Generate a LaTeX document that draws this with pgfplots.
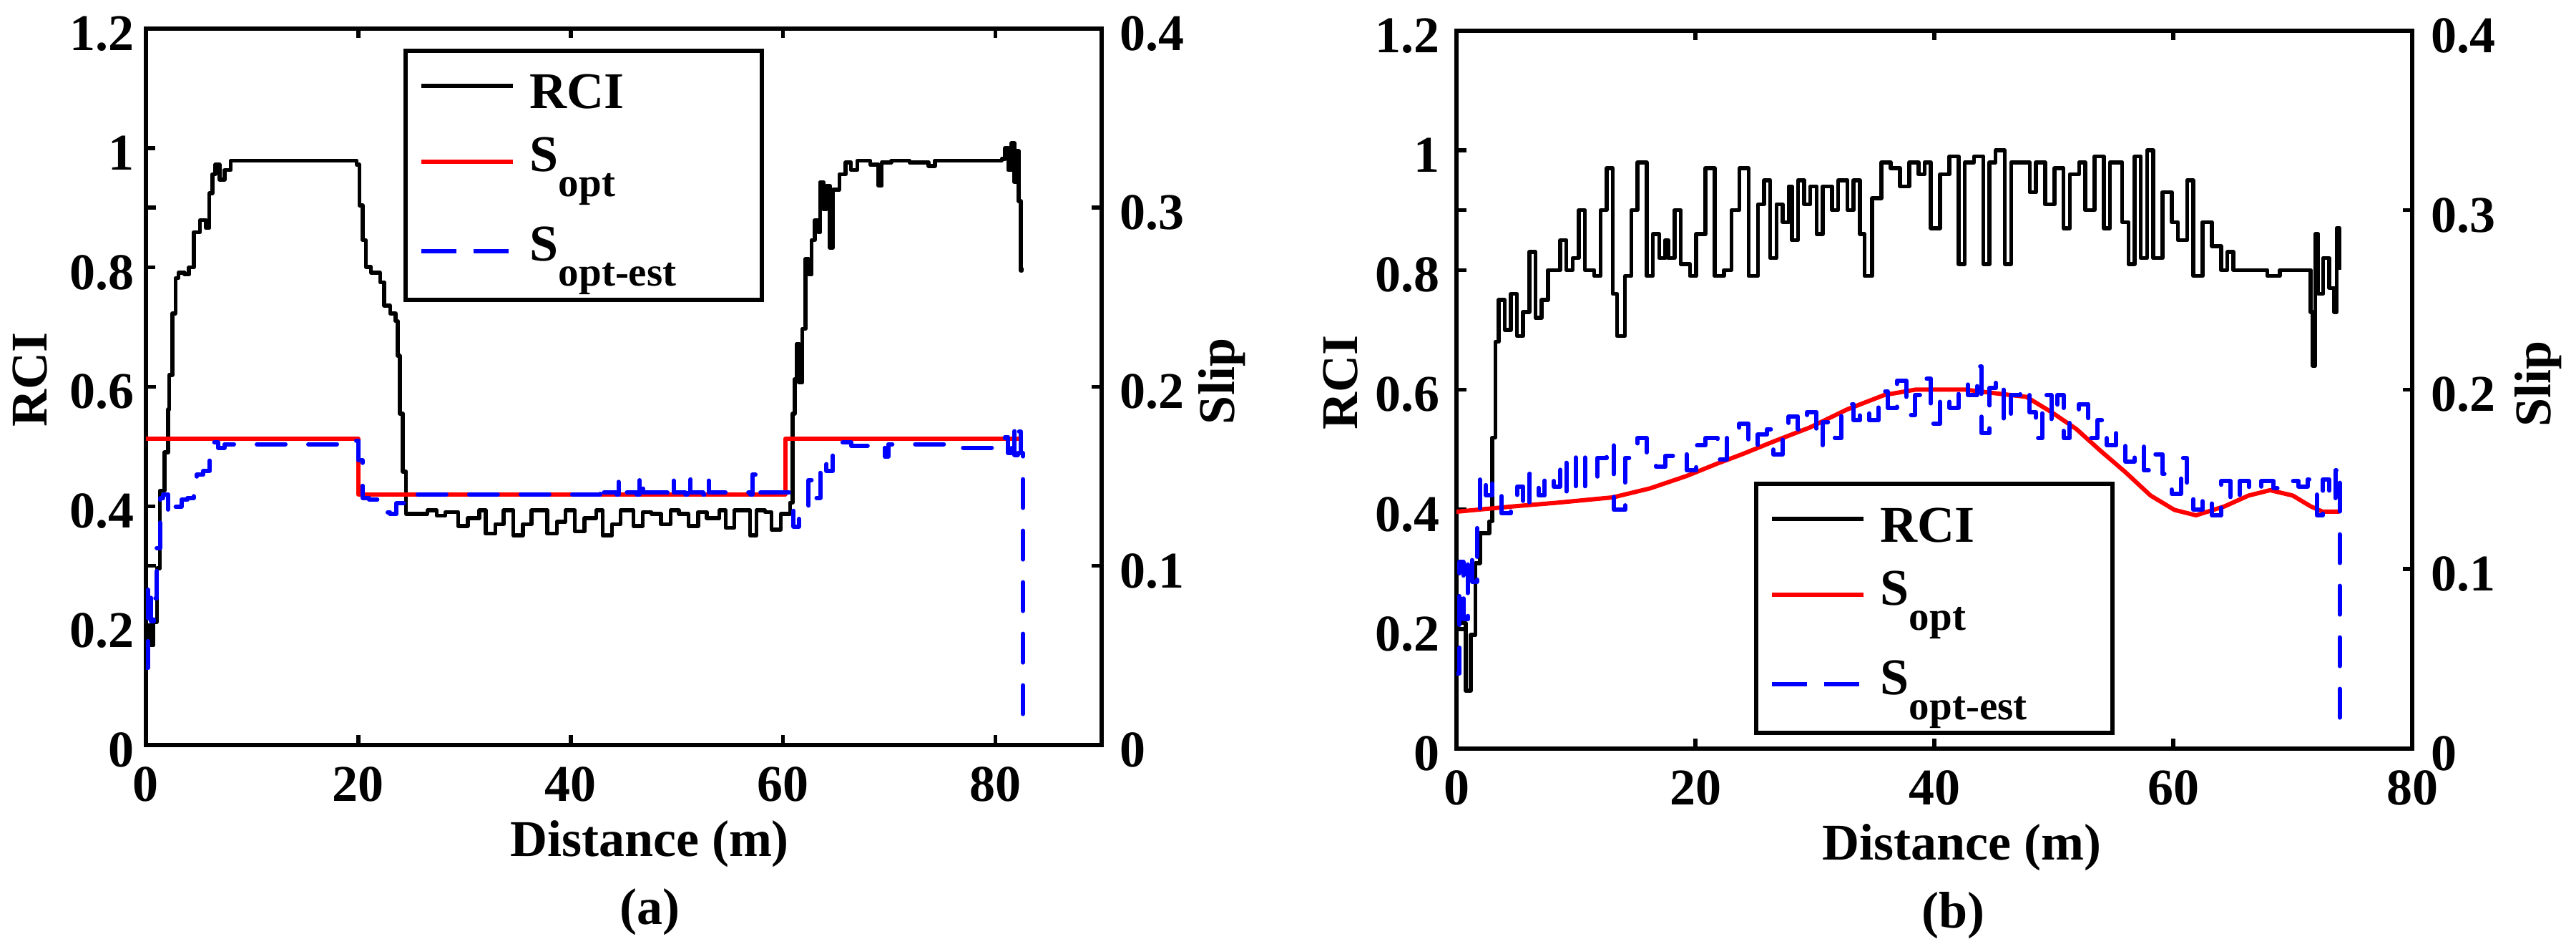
\documentclass[border=0pt]{standalone}
\usepackage{fontspec}
\setmainfont{Liberation Serif}
\usepackage{pgfplots}
\pgfplotsset{compat=1.18}

\newcommand{\mainsize}{\fontsize{14.4}{17}\selectfont\bfseries}
\newcommand{\subsize}{\fontsize{11.4}{12}\selectfont\bfseries}

\pgfplotsset{
  every axis title shift=0pt,
  base/.style={
    scale only axis, width=267.2pt,
    font=\mainsize,
    tick align=inside,
    major tick length=2.7pt,
    tick style={black, line width=1.1pt},
    axis line style={line width=1.2pt},
  },
  rciax/.style={
    base,
    ymin=0, ymax=1.2,
    ytick={0,0.2,0.4,0.6,0.8,1,1.2},
    yticklabels={0,0.2,0.4,0.6,0.8,1,1.2},
    xtick={0,20,40,60,80}, xticklabels={0,20,40,60,80},
    xtick pos=both, ytick pos=left,
    xticklabel style={inner sep=0pt, anchor=north, yshift=-6pt},
    xlabel={Distance (m)},
    ylabel={RCI},
    ylabel style={at={(axis description cs:-0.1213,0.5095)}, anchor=center, inner sep=0pt},
  },
  slipax/.style={
    base,
    ymin=0, ymax=0.4,
    xtick=\empty,
    ytick={0,0.1,0.2,0.3,0.4},
    yticklabels={0,0.1,0.2,0.3,0.4},
    ytick pos=both, yticklabel pos=right,
    yticklabel style={inner sep=0pt, anchor=west, xshift=5pt, yshift=-1.4pt},
    ylabel={Slip},
    legend plot pos=none,
  },
  legsty/.style={
    legend style={draw=black, line width=1.1pt, fill=white,
      inner xsep=4.4pt, inner ysep=0pt,
      font=\mainsize,
      nodes={inner sep=0pt, text depth=, text height=, font=\mainsize},
      cells={anchor=west}},
  },
  rcistyle/.style={black, line width=1.1pt, line join=round},
  optstyle/.style={red, line width=1.2pt, line join=round},
  eststyle/.style={blue, line width=1.2pt, line join=round, line cap=round, dash pattern=on 8pt off 6.4pt},
}

% legend rows: sample line (25.6pt) + gap (4.8pt) + text (60.4pt)
\newcommand{\legRCI}{\rule[-3.4pt]{0pt}{19.6pt}%
  {\color{black}\rule[5.85pt]{25.6pt}{1.1pt}}\hspace{4.8pt}%
  \makebox[60.4pt][l]{\mainsize RCI}}
\newcommand{\legOpt}{\rule[-8.6pt]{0pt}{22.8pt}%
  {\color{red}\rule[2.2pt]{25.6pt}{1.2pt}}\hspace{4.8pt}%
  \makebox[60.4pt][l]{\smash{\mainsize S\raisebox{-7pt}{\subsize opt}}}}
\newcommand{\legEst}{\rule[-10.8pt]{0pt}{27.2pt}%
  {\color{blue}\rule[2.2pt]{9.8pt}{1.2pt}\hspace{4.8pt}\rule[2.2pt]{9.8pt}{1.2pt}\hspace{1.2pt}}\hspace{4.8pt}%
  \makebox[60.4pt][l]{\smash{\mainsize S\raisebox{-7pt}{\subsize opt-est}}}}

\begin{document}
\begin{tikzpicture}
\useasboundingbox (0,0) rectangle (720.2pt,263.8pt);

% ---------------- panel (a) ----------------
\begin{axis}[rciax, at={(40.8pt,55.6pt)}, anchor=south west, height=200.2pt,
  xmin=0, xmax=90,
  yticklabel style={inner sep=0pt, anchor=east, xshift=-3pt, yshift=-1.4pt},
  xlabel style={at={(axis description cs:0.527,0)}, anchor=base, yshift=-31.2pt, inner sep=0pt},
  title={(a)},
  title style={at={(axis description cs:0.527,0)}, anchor=base, yshift=-50.2pt, inner sep=0pt},
]
\addplot[rcistyle, const plot] coordinates {
(0,0.199)(0.35,0.167)(0.7,0.206)(1.04,0.296)(1.33,0.426)(1.74,0.49)(2.08,0.562)(2.2,0.62)(2.49,0.723)(2.78,0.782)(3.07,0.791)(3.65,0.788)(4.05,0.80)(4.5,0.859)(5.1,0.879)(5.67,0.866)(5.96,0.924)(6.25,0.956)(6.54,0.972)(6.94,0.947)(7.4,0.963)(8.0,0.979)(19.3,0.979)(19.85,0.972)(20.1,0.904)(20.4,0.846)(20.7,0.801)(21.2,0.791)(21.6,0.791)(22.05,0.775)(22.45,0.736)(23.0,0.723)(23.5,0.71)(23.7,0.652)(23.9,0.555)(24.2,0.458)(24.5,0.387)(26.5,0.393)(27.4,0.384)(28.2,0.39)(29.4,0.367)(30.3,0.38)(31.4,0.393)(32.0,0.354)(32.9,0.37)(33.7,0.393)(34.6,0.351)(35.5,0.37)(36.3,0.393)(37.8,0.354)(38.7,0.374)(39.5,0.393)(40.4,0.358)(41.3,0.38)(42.4,0.393)(43.0,0.351)(43.9,0.37)(44.7,0.393)(45.9,0.367)(46.8,0.39)(47.6,0.387)(48.5,0.37)(49.4,0.393)(50.2,0.387)(51.1,0.367)(52.0,0.39)(52.8,0.38)(54.0,0.393)(54.6,0.364)(55.4,0.393)(56.9,0.351)(57.5,0.393)(58.3,0.39)(58.9,0.361)(59.8,0.387)(60.4,0.387)(60.65,0.406)(60.9,0.555)(61.1,0.613)(61.3,0.672)(61.5,0.607)(61.8,0.697)(62.1,0.814)(62.4,0.788)(62.7,0.846)(63.0,0.879)(63.3,0.859)(63.5,0.943)(63.8,0.898)(64.1,0.937)(64.4,0.833)(64.7,0.93)(65.3,0.956)(65.9,0.976)(66.4,0.963)(67.0,0.979)(68.2,0.972)(69.0,0.937)(69.3,0.976)(70.2,0.979)(71.9,0.976)(73.7,0.97)(74.3,0.979)(79.7,0.979)(80.6,0.982)(80.9,1.0)(81.2,0.963)(81.5,1.008)(81.8,0.943)(82.0,0.995)(82.2,0.911)(82.4,0.795)(82.5,0.80)
};
\end{axis}

\begin{axis}[slipax, legsty, at={(40.8pt,55.6pt)}, anchor=south west, height=200.2pt,
  xmin=0, xmax=90,
  ylabel style={at={(axis description cs:1.1257,0.5075)}, anchor=center, inner sep=0pt},
  legend style={at={(axis description cs:0.2695,0.972)}, anchor=north west},
]
\addlegendimage{rcistyle}
\addlegendentry{\legRCI}
\addplot[optstyle] coordinates {
(0,0.171)(20,0.171)(20,0.140)(60.2,0.140)(60.2,0.171)(82.5,0.171)
};
\addlegendentry{\legOpt}
\addplot[eststyle, const plot] coordinates {
(0,0.043)(0.17,0.09)(0.46,0.069)(0.75,0.082)(1.04,0.110)(1.33,0.138)(1.62,0.140)(2.08,0.128)(2.49,0.129)(2.78,0.133)(3.36,0.137)(3.94,0.138)(4.5,0.144)(4.8,0.151)(5.4,0.153)(6.0,0.163)(6.25,0.169)(6.8,0.166)(7.4,0.168)(19.0,0.168)(19.6,0.170)(20.0,0.159)(20.4,0.138)(21.0,0.137)(21.9,0.135)(22.45,0.130)(23.0,0.129)(23.6,0.135)(24.5,0.140)(42.6,0.140)(42.8,0.146)(43.0,0.141)(44.3,0.140)(44.5,0.148)(44.7,0.141)(46.2,0.140)(46.5,0.151)(46.8,0.141)(49.1,0.140)(49.4,0.148)(49.7,0.141)(50.8,0.140)(51.0,0.150)(51.3,0.141)(52.5,0.140)(52.7,0.149)(53.0,0.141)(56.9,0.140)(57.1,0.151)(57.4,0.141)(60.1,0.141)(61.0,0.122)(61.5,0.129)(62.1,0.133)(62.4,0.148)(62.7,0.138)(63.5,0.159)(64.1,0.153)(64.7,0.166)(65.6,0.169)(66.4,0.167)(69.3,0.168)(69.6,0.161)(69.9,0.168)(75.1,0.168)(76.3,0.166)(79.7,0.169)(80.9,0.172)(81.2,0.163)(81.5,0.176)(81.8,0.162)(82.1,0.175)(82.4,0.163)(82.6,0.151)(82.6,0.016)
};
\addlegendentry{\legEst}
\end{axis}

% ---------------- panel (b) ----------------
\begin{axis}[rciax, at={(407.2pt,54.6pt)}, anchor=south west, height=200.6pt,
  xmin=0, xmax=80,
  yticklabel style={inner sep=0pt, anchor=east, xshift=-4.6pt, yshift=-1.4pt},
  xlabel style={at={(axis description cs:0.529,0)}, anchor=base, yshift=-31.2pt, inner sep=0pt},
  title={(b)},
  title style={at={(axis description cs:0.52,0)}, anchor=base, yshift=-50.2pt, inner sep=0pt},
]
\addplot[rcistyle, const plot] coordinates {
(0,0.25)(0.41,0.21)(0.78,0.097)(1.19,0.19)(1.60,0.31)(1.96,0.36)(2.74,0.38)(3.0,0.52)(3.26,0.68)(3.52,0.75)(4.03,0.70)(4.55,0.76)(5.07,0.69)(5.58,0.73)(6.10,0.83)(6.62,0.72)(7.13,0.75)(7.65,0.80)(8.17,0.80)(8.69,0.85)(9.20,0.80)(9.72,0.82)(10.24,0.90)(10.75,0.80)(11.53,0.79)(12.05,0.90)(12.56,0.97)(13.08,0.76)(13.44,0.69)(14.11,0.79)(14.63,0.90)(15.15,0.98)(15.92,0.79)(16.44,0.86)(16.96,0.82)(17.47,0.85)(17.73,0.82)(18.25,0.90)(18.77,0.81)(19.54,0.79)(20.06,0.86)(20.84,0.97)(21.61,0.79)(22.39,0.80)(23.01,0.90)(23.68,0.97)(24.45,0.79)(25.23,0.91)(25.75,0.95)(26.26,0.82)(26.78,0.91)(27.30,0.88)(27.81,0.94)(28.07,0.85)(28.59,0.95)(29.11,0.91)(29.62,0.94)(30.14,0.86)(30.66,0.94)(31.43,0.90)(31.95,0.95)(32.73,0.90)(33.24,0.95)(33.76,0.86)(34.17,0.79)(34.79,0.92)(35.57,0.98)(36.35,0.97)(37.12,0.94)(37.90,0.98)(38.67,0.96)(39.19,0.98)(39.71,0.87)(40.48,0.96)(41.26,0.99)(42.03,0.81)(42.55,0.98)(43.32,0.99)(44.10,0.81)(44.62,0.98)(45.13,1.00)(45.91,0.81)(46.43,0.98)(47.20,0.98)(47.98,0.93)(48.49,0.98)(49.27,0.91)(50.05,0.97)(50.82,0.87)(51.34,0.96)(52.11,0.98)(52.63,0.90)(53.41,0.99)(54.18,0.87)(54.70,0.98)(55.22,0.98)(55.73,0.88)(56.25,0.81)(56.77,0.99)(57.28,0.82)(57.80,1.00)(58.32,0.82)(59.09,0.93)(59.87,0.88)(60.39,0.85)(61.16,0.95)(61.68,0.79)(62.45,0.88)(63.23,0.84)(64.00,0.80)(64.52,0.83)(65.04,0.80)(65.81,0.80)(66.85,0.80)(67.88,0.79)(68.92,0.80)(69.95,0.80)(71.24,0.80)(71.50,0.73)(71.66,0.64)(71.87,0.86)(72.13,0.76)(72.54,0.82)(73.06,0.77)(73.47,0.73)(73.67,0.87)(73.93,0.80)
};
\end{axis}

\begin{axis}[slipax, legsty, at={(407.2pt,54.6pt)}, anchor=south west, height=200.6pt,
  xmin=0, xmax=80,
  ylabel style={at={(axis description cs:1.132,0.5075)}, anchor=center, inner sep=0pt},
  legend style={at={(axis description cs:0.3114,0.019)}, anchor=south west},
]
\addlegendimage{rcistyle}
\addlegendentry{\legRCI}
\addplot[optstyle] coordinates {
(0,0.132)(4.8,0.135)(8.4,0.137)(13.1,0.140)(16.2,0.145)(19.3,0.152)(21.9,0.159)(23.9,0.164)(26.5,0.171)(29.6,0.179)(32.7,0.189)(35.8,0.197)(38.4,0.200)(42.6,0.200)(45.1,0.198)(47.7,0.196)(49.8,0.1875)(51.9,0.178)(53.9,0.166)(56.0,0.154)(58.1,0.141)(60.1,0.133)(61.9,0.130)(64.3,0.135)(66.3,0.141)(68.1,0.144)(70.0,0.141)(71.5,0.135)(72.5,0.132)(73.9,0.132)
};
\addlegendentry{\legOpt}
\addplot[eststyle, const plot] coordinates {
(0,0.042)(0.26,0.104)(0.57,0.072)(0.93,0.109)(1.29,0.093)(1.71,0.127)(1.96,0.153)(2.48,0.141)(3.0,0.148)(3.77,0.131)(4.55,0.139)(5.07,0.146)(5.58,0.133)(6.10,0.153)(6.88,0.141)(7.39,0.153)(8.17,0.146)(8.69,0.162)(9.20,0.141)(9.98,0.166)(10.75,0.146)(11.79,0.162)(12.56,0.170)(13.18,0.133)(14.11,0.162)(15.15,0.173)(15.92,0.160)(16.70,0.157)(17.47,0.163)(18.25,0.166)(19.28,0.155)(20.06,0.169)(20.84,0.173)(21.87,0.161)(22.64,0.173)(23.68,0.181)(24.45,0.167)(25.23,0.175)(26.00,0.178)(26.52,0.164)(27.30,0.176)(27.81,0.185)(28.59,0.178)(29.36,0.1875)(30.14,0.169)(30.66,0.182)(31.69,0.173)(32.21,0.192)(33.24,0.183)(33.76,0.190)(34.54,0.183)(35.31,0.199)(36.09,0.190)(36.86,0.205)(37.64,0.186)(38.41,0.197)(39.19,0.206)(39.71,0.181)(40.48,0.197)(41.26,0.190)(42.03,0.204)(42.81,0.197)(43.58,0.213)(43.94,0.176)(44.62,0.201)(45.13,0.206)(45.81,0.181)(46.43,0.197)(47.20,0.201)(47.98,0.1875)(48.49,0.173)(49.01,0.197)(49.79,0.183)(50.30,0.197)(50.82,0.173)(51.34,0.1875)(52.11,0.192)(52.89,0.173)(53.66,0.183)(54.44,0.169)(55.22,0.176)(55.99,0.160)(56.77,0.169)(57.54,0.155)(58.32,0.164)(59.09,0.153)(59.87,0.142)(60.65,0.162)(61.16,0.141)(61.68,0.133)(62.45,0.141)(63.23,0.130)(64.0,0.149)(64.78,0.137)(65.56,0.149)(66.33,0.143)(67.37,0.149)(68.4,0.145)(69.44,0.149)(70.47,0.146)(71.24,0.150)(72.02,0.130)(72.54,0.150)(73.06,0.137)(73.57,0.155)(73.93,0.157)(73.93,0.010)
};
\addlegendentry{\legEst}
\end{axis}
\end{tikzpicture}
\end{document}
